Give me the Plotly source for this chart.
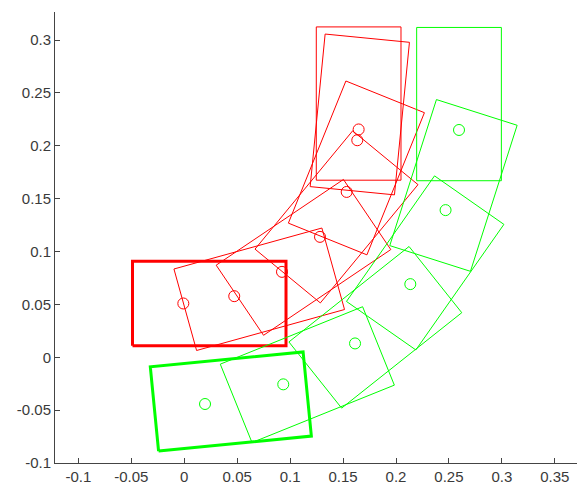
import numpy as np
import plotly.graph_objects as go

# Reference points (circles) and headings (degrees) of each rectangle
red_x = [-0.0009, 0.0472, 0.0923, 0.1282, 0.1534, 0.1634, 0.1647]
red_y = [0.0509, 0.0578, 0.0808, 0.1139, 0.1564, 0.2053, 0.2155]
red_theta = [0, 15.5, 34, 50.5, 68, 84.4, 90]

green_x = [0.0196, 0.0935, 0.1613, 0.2135, 0.2468, 0.2595]
green_y = [-0.0442, -0.0256, 0.0131, 0.0692, 0.1392, 0.2150]
green_theta = [5.6, 22, 38.5, 55, 72.3, 90]

x_ticks = [-0.1, -0.05, 0, 0.05, 0.1, 0.15, 0.2, 0.25, 0.3, 0.35]
x_labels = ["-0.1", "-0.05", "0", "0.05", "0.1", "0.15", "0.2", "0.25", "0.3", "0.35"]
y_ticks = [-0.1, -0.05, 0, 0.05, 0.1, 0.15, 0.2, 0.25, 0.3]
y_labels = ["-0.1", "-0.05", "0", "0.05", "0.1", "0.15", "0.2", "0.25", "0.3"]

# rectangle geometry relative to reference point
REAR = 0.048
FRONT = 0.097
HALF_W = 0.04


def rect(px, py, deg):
    t = np.deg2rad(deg)
    u = np.array([np.cos(t), np.sin(t)])
    n = np.array([-np.sin(t), np.cos(t)])
    p = np.array([px, py])
    pts = [p - REAR * u - HALF_W * n, p + FRONT * u - HALF_W * n,
           p + FRONT * u + HALF_W * n, p - REAR * u + HALF_W * n]
    pts.append(pts[0])
    pts = np.array(pts)
    return pts[:, 0], pts[:, 1]


fig = go.Figure()


def add_series(xs, ys, ths, color):
    for i, (x, y, th) in enumerate(zip(xs, ys, ths)):
        rx, ry = rect(x, y, th)
        fig.add_trace(go.Scatter(x=rx, y=ry, mode="lines",
                                 line=dict(color=color, width=3 if i == 0 else 1),
                                 hoverinfo="skip", showlegend=False))
    fig.add_trace(go.Scatter(x=xs, y=ys, mode="markers",
                             marker=dict(symbol="circle-open", size=11,
                                         color=color, line=dict(width=1, color=color)),
                             showlegend=False))


add_series(red_x, red_y, red_theta, "#ff0000")
add_series(green_x, green_y, green_theta, "#00ff00")

axis_common = dict(showgrid=False, zeroline=False, showline=True, linecolor="#444444",
                   linewidth=1, ticks="inside", ticklen=5, tickcolor="#444444",
                   tickfont=dict(family="Liberation Sans, Arial", size=15, color="#3a3a3a"))

fig.update_xaxes(range=[-0.1221, 0.3785], tickvals=x_ticks, ticktext=x_labels, **axis_common)
fig.update_yaxes(range=[-0.1, 0.3266], tickvals=y_ticks, ticktext=y_labels, **axis_common)

# page body has an 8px offset; margins compensate so the plot area matches the reference
fig.update_layout(width=585, height=487, margin=dict(l=47, r=8, t=3.7, b=31.7),
                  plot_bgcolor="white", paper_bgcolor="white")

fig.write_html("out.html")
